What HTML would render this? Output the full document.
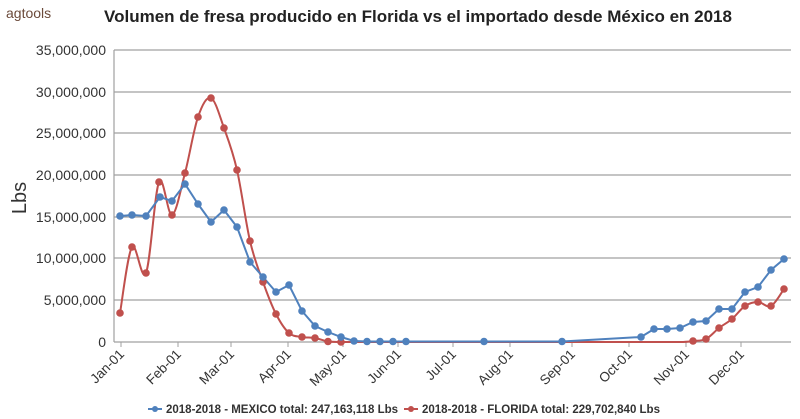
<!DOCTYPE html>
<html><head><meta charset="utf-8"><style>
html,body{margin:0;padding:0;background:#fff;width:800px;height:419px;overflow:hidden}
text{font-family:"Liberation Sans",sans-serif}
</style></head><body>
<svg id="s" width="800" height="419" viewBox="0 0 800 419" xmlns="http://www.w3.org/2000/svg">
<text x="6" y="18" font-size="14" fill="#6b4a3a">agtools</text>
<text x="418" y="22" font-size="17" font-weight="bold" fill="#222" text-anchor="middle">Volumen de fresa producido en Florida vs el importado desde México en 2018</text>
<g stroke="#a0a0a0" stroke-width="1.2">
<line x1="114" y1="50" x2="791" y2="50"/><line x1="114" y1="92" x2="791" y2="92"/>
<line x1="114" y1="133" x2="791" y2="133"/><line x1="114" y1="175" x2="791" y2="175"/>
<line x1="114" y1="217" x2="791" y2="217"/><line x1="114" y1="258" x2="791" y2="258"/>
<line x1="114" y1="300" x2="791" y2="300"/><line x1="114" y1="342" x2="791" y2="342"/>
<line x1="114" y1="50" x2="114" y2="342"/>
</g>
<g font-size="14" fill="#333" text-anchor="end">
<text x="106" y="55">35,000,000</text><text x="106" y="97">30,000,000</text>
<text x="106" y="138">25,000,000</text><text x="106" y="180">20,000,000</text>
<text x="106" y="222">15,000,000</text><text x="106" y="263">10,000,000</text>
<text x="106" y="305">5,000,000</text><text x="106" y="347">0</text>
</g>
<text transform="translate(26,198) rotate(-90)" font-size="20" fill="#333" text-anchor="middle">Lbs</text>
<g id="ticks" stroke="#a0a0a0"></g>
<g id="xl" font-size="13.5" fill="#333" text-anchor="end"></g>
<path id="rp" fill="none" stroke="#c0504d" stroke-width="2"/>
<polyline id="bp" fill="none" stroke="#4f81bd" stroke-width="2"/>
<g id="rd" fill="#c0504d"></g><g id="bd" fill="#4f81bd"></g>
<g font-size="11.5" font-weight="bold" fill="#333">
<line x1="148" y1="409" x2="162" y2="409" stroke="#4f81bd" stroke-width="2"/><circle cx="155" cy="409" r="3" fill="#4f81bd"/>
<text x="166" y="413">2018-2018 - MEXICO total: 247,163,118 Lbs</text>
<line x1="404" y1="409" x2="418" y2="409" stroke="#c0504d" stroke-width="2"/><circle cx="411" cy="409" r="3" fill="#c0504d"/>
<text x="422" y="413">2018-2018 - FLORIDA total: 229,702,840 Lbs</text>
</g>
</svg>
<script>
var NS="http://www.w3.org/2000/svg";
function el(t,a,p){var e=document.createElementNS(NS,t);for(var k in a)e.setAttribute(k,a[k]);document.getElementById(p).appendChild(e);return e;}
var m=[["Jan-01",121],["Feb-01",178],["Mar-01",231],["Apr-01",288],["May-01",343],["Jun-01",398],["Jul-01",453],["Aug-01",510],["Sep-01",572],["Oct-01",629],["Nov-01",686],["Dec-01",741]];
m.forEach(function(d){el("line",{x1:d[1],y1:342,x2:d[1],y2:347},"ticks");
var t=el("text",{transform:"translate("+(d[1]+4)+",355) rotate(-45)"},"xl");t.textContent=d[0];});
var B=[[120,216],[132,215],[146,216],[160,197],[172,201],[185,184],[198,204],[211,222],[224,210],[237,227],[250,262],[263,277],[276,292],[289,285],[302,311],[315,326],[328,332],[341,337],[354,341],[367,341.5],[380,341.5],[393,341.5],[406,341.5],[484,341.5],[562,341.5],[641,337],[654,329],[667,329],[680,328],[693,322],[706,321],[719,309],[732,309],[745,292],[758,287],[771,270],[784,259]];
var R=[[120,313],[132,247],[146,273],[159,182],[172,215],[185,173],[198,117],[211,98],[224,128],[237,170],[250,241],[263,282],[276,314],[289,333],[302,337],[315,338],[328,341.5],[341,342],[354,342],[406,342],[484,342],[562,342],[641,342],[680,342],[693,341],[706,339],[719,328],[732,319],[745,306],[758,302],[771,306],[784,289]];
document.getElementById("bp").setAttribute("points",B.map(function(p){return p.join(",")}).join(" "));
var d="M"+R[0][0]+","+R[0][1];
for(var i=0;i<R.length-1;i++){var p0=R[Math.max(i-1,0)],p1=R[i],p2=R[i+1],p3=R[Math.min(i+2,R.length-1)];
var c1x=p1[0]+(p2[0]-p0[0])/6,c1y=p1[1]+(p2[1]-p0[1])/6,c2x=p2[0]-(p3[0]-p1[0])/6,c2y=p2[1]-(p3[1]-p1[1])/6;
c1y=Math.min(c1y,342);c2y=Math.min(c2y,342);
d+=" C"+c1x+","+c1y+" "+c2x+","+c2y+" "+p2[0]+","+p2[1];}
document.getElementById("rp").setAttribute("d",d);
R.forEach(function(p){if(p[0]<=341||p[0]>=693)el("circle",{cx:p[0],cy:p[1],r:3.8},"rd");});
B.forEach(function(p){el("circle",{cx:p[0],cy:p[1],r:3.8},"bd");});
</script>
</body></html>
